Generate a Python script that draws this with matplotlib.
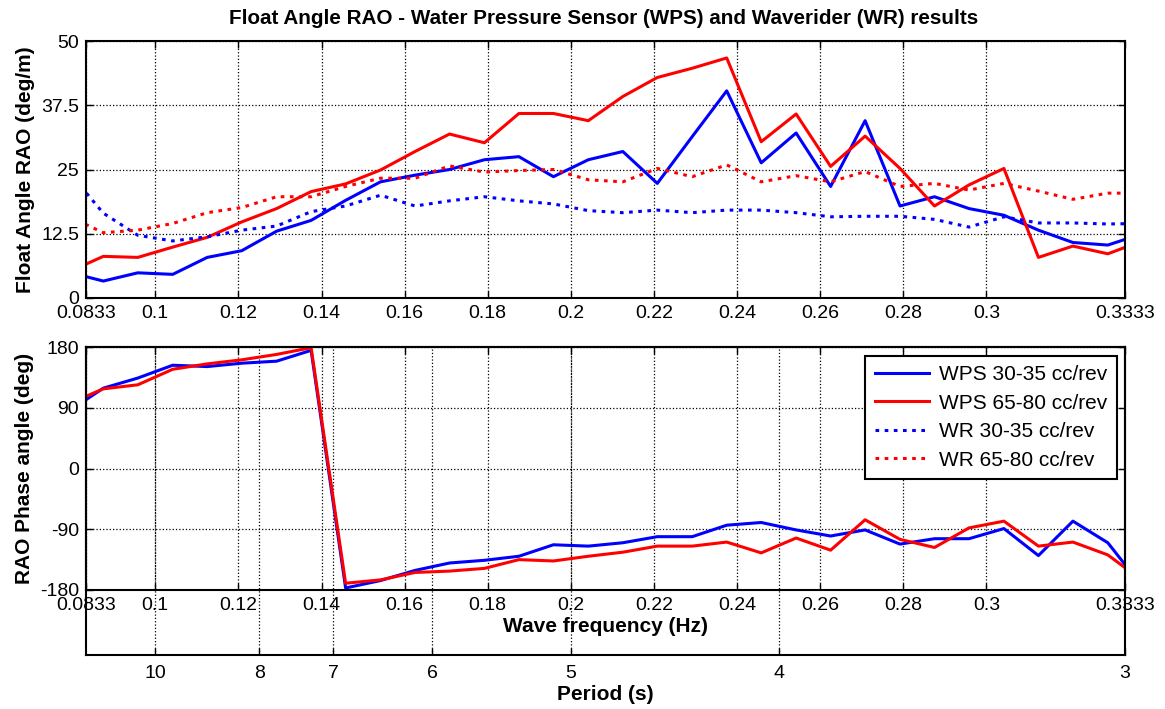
import matplotlib
matplotlib.use('Agg')
import matplotlib.pyplot as plt
import numpy as np

plt.rcParams['font.family'] = ['Liberation Sans', 'DejaVu Sans']
plt.rcParams['axes.unicode_minus'] = False

# frequency bins (Hz); first and last fall just outside the plotted range
freq = [0.0792, 0.0875, 0.0958, 0.1042, 0.1125, 0.1208, 0.1292, 0.1375,
        0.1458, 0.1542, 0.1625, 0.1708, 0.1792, 0.1875, 0.1958, 0.2042,
        0.2125, 0.2208, 0.2292, 0.2375, 0.2458, 0.2542, 0.2625, 0.2708,
        0.2792, 0.2875, 0.2958, 0.3042, 0.3125, 0.3208, 0.3292, 0.3375]

wps_30_rao = [5.0, 3.3, 4.9, 4.6, 7.9, 9.2, 13.0, 15.1, 19.0, 22.6, 23.9, 25.0,
              26.9, 27.5, 23.6, 26.9, 28.5, 22.3, 31.4, 40.3, 26.3, 32.1, 21.7,
              34.5, 17.9, 19.7, 17.4, 16.1, 13.2, 10.8, 10.3, 12.5]
wps_65_rao = [5.1, 8.1, 7.9, 9.9, 11.8, 14.8, 17.4, 20.7, 22.2, 24.9, 28.5, 31.9,
              30.2, 35.9, 35.9, 34.5, 39.2, 42.9, 44.7, 46.7, 30.4, 35.8, 25.6,
              31.5, 25.2, 17.9, 22.0, 25.2, 7.9, 10.1, 8.6, 11.1]
wr_30_rao = [24.5, 16.5, 12.2, 11.1, 11.9, 13.2, 14.0, 16.8, 17.9, 20.0, 17.9,
             18.9, 19.7, 18.9, 18.3, 17.0, 16.6, 17.1, 16.6, 17.1, 17.1, 16.6,
             15.8, 15.9, 15.9, 15.3, 13.8, 15.8, 14.6, 14.6, 14.4, 14.5]
wr_65_rao = [15.9, 12.7, 13.2, 14.5, 16.6, 17.6, 19.7, 19.7, 21.7, 23.3, 23.3,
             25.7, 24.5, 24.8, 25.0, 23.0, 22.6, 25.2, 23.6, 25.9, 22.6, 23.8,
             22.6, 24.6, 21.7, 22.3, 21.0, 22.3, 20.8, 19.2, 20.4, 20.4]

wps_30_phase = [85, 119, 134, 153, 151, 156, 159, 175, -177, -166, -151, -140,
                -136, -130, -113, -115, -110, -101, -101, -84, -80, -91, -100,
                -91, -112, -104, -104, -89, -129, -78, -110, -175]
wps_65_phase = [96, 118, 124, 147, 155, 161, 169, 179, -170, -165, -154, -152,
                -148, -135, -137, -130, -124, -115, -115, -109, -125, -103, -121,
                -76, -105, -117, -88, -78, -115, -109, -128, -166]

freq_ticks = [1 / 12, 0.1, 0.12, 0.14, 0.16, 0.18, 0.2, 0.22, 0.24, 0.26, 0.28, 0.3, 1 / 3]
freq_labels = ['0.0833', '0.1', '0.12', '0.14', '0.16', '0.18', '0.2', '0.22',
               '0.24', '0.26', '0.28', '0.3', '0.3333']
periods = [10, 8, 7, 6, 5, 4, 3]
labels = ['WPS 30-35 cc/rev', 'WPS 65-80 cc/rev', 'WR 30-35 cc/rev', 'WR 65-80 cc/rev']

W, H = 1165, 709
fig = plt.figure(figsize=(W / 100, H / 100), dpi=100)


def rect(l, t, r, b):
    return [l / W, 1 - b / H, (r - l) / W, (b - t) / H]


dots = (0, (1.2, 1.8))
lw = 2.2
xlim = (1 / 12, 1 / 3)


def style(ax):
    ax.set_xlim(xlim)
    ax.tick_params(direction='in', top=True, right=True, length=5, width=1,
                   labelsize=14, pad=5)
    for s in ax.spines.values():
        s.set_linewidth(1.5)
    ax.grid(True, color='black', linestyle=':', linewidth=0.9)


# top: RAO magnitude
ax1 = fig.add_axes(rect(86, 41, 1125, 298))
h1, = ax1.plot(freq, wps_30_rao, color='blue', lw=lw)
h2, = ax1.plot(freq, wps_65_rao, color='red', lw=lw)
h3, = ax1.plot(freq, wr_30_rao, color='blue', lw=lw, linestyle=dots)
h4, = ax1.plot(freq, wr_65_rao, color='red', lw=lw, linestyle=dots)
style(ax1)
ax1.set_ylim(0, 50)
ax1.set_yticks([0, 12.5, 25, 37.5, 50])
ax1.set_yticklabels(['0', '12.5', '25', '37.5', '50'])
ax1.set_xticks(freq_ticks)
ax1.set_xticklabels(freq_labels)
ax1.set_ylabel('Float Angle RAO (deg/m)', fontsize=15, fontweight='bold')
fig.text(604 / W, 1 - 18 / H, 'Float Angle RAO - Water Pressure Sensor (WPS) and Waverider (WR) results',
         ha='center', va='center', fontsize=14.9, fontweight='bold')

# period axis sitting behind the phase plot
axp = fig.add_axes(rect(86, 347, 1125, 655))
axp.set_xlim(xlim)
axp.set_ylim(0, 1)
axp.set_yticks([])
axp.set_xticks([1 / p for p in periods])
axp.set_xticklabels([str(p) for p in periods])
axp.tick_params(direction='in', length=5, width=1, labelsize=14, pad=7)
axp.grid(True, axis='x', color='black', linestyle=':', linewidth=0.9)
for s in axp.spines.values():
    s.set_linewidth(1.5)
axp.set_xlabel('Period (s)', fontsize=15, fontweight='bold', labelpad=2)

# bottom: phase
ax2 = fig.add_axes(rect(86, 347, 1125, 590))
ax2.patch.set_visible(False)
ax2.plot(freq, wps_30_phase, color='blue', lw=lw)
ax2.plot(freq, wps_65_phase, color='red', lw=lw)
style(ax2)
ax2.set_ylim(-180, 180)
ax2.set_yticks([-180, -90, 0, 90, 180])
ax2.set_xticks(freq_ticks)
ax2.set_xticklabels(freq_labels)
ax2.set_ylabel('RAO Phase angle (deg)', fontsize=15, fontweight='bold')
ax2.set_xlabel('Wave frequency (Hz)', fontsize=15, fontweight='bold', labelpad=2)

leg = ax2.legend([h1, h2, h3, h4], labels, loc='upper right',
                 bbox_to_anchor=((1117 - 86) / 1039, 1 - (356 - 347) / 243),
                 borderaxespad=0, fontsize=15, handlelength=2.6, fancybox=False,
                 framealpha=1, edgecolor='black', labelspacing=0.45,
                 borderpad=0.45, handletextpad=0.5)
leg.get_frame().set_linewidth(1.5)

fig.savefig('out.png', dpi=100)
